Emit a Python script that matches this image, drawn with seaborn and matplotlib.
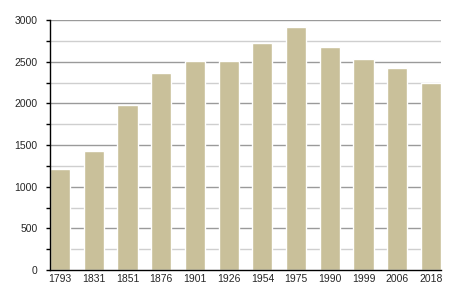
import matplotlib
matplotlib.use("Agg")
import matplotlib.pyplot as plt
import seaborn as sns
import pandas as pd

years = ["1793", "1831", "1851", "1876", "1901", "1926", "1954", "1975", "1990", "1999", "2006", "2018"]
population = [1214, 1430, 1975, 2360, 2510, 2510, 2725, 2915, 2680, 2530, 2430, 2240]

df = pd.DataFrame({"year": years, "pop": population})

sns.set_style("white")
plt.rcParams['font.family'] = ['Liberation Sans', 'DejaVu Sans']

fig = plt.figure(figsize=(4.5, 3), dpi=100)
ax = fig.add_axes([50/450, 30/300, 391/450, 250/300])

for y in range(250, 3001, 250):
    c = "#9a9a9a" if y % 500 == 0 else "#cfcfcf"
    ax.axhline(y, color=c, lw=1, zorder=0)

sns.barplot(data=df, x="year", y="pop", color="#c9c09a", saturation=1,
            width=0.6, ax=ax, zorder=2)

ax.set_xlim(-0.3, 11.3)
ax.set_ylim(0, 3000)
ax.set_yticks(range(0, 3001, 500))
ax.set_yticks(range(250, 3000, 500), minor=True)
ax.tick_params(axis="y", which="major", length=3, width=1, color="black", labelsize=7.5, pad=6, direction="out", left=True)
ax.tick_params(axis="y", which="minor", length=3, width=1, color="black", left=True)
ax.tick_params(axis="x", length=0, labelsize=7.5, pad=3)
ax.set_xlabel("")
ax.set_ylabel("")
for s in ["top", "right"]:
    ax.spines[s].set_visible(False)
for s in ["left", "bottom"]:
    ax.spines[s].set_color("black")
    ax.spines[s].set_linewidth(1)
    ax.spines[s].set_zorder(3)

fig.savefig("out.png", dpi=100)
